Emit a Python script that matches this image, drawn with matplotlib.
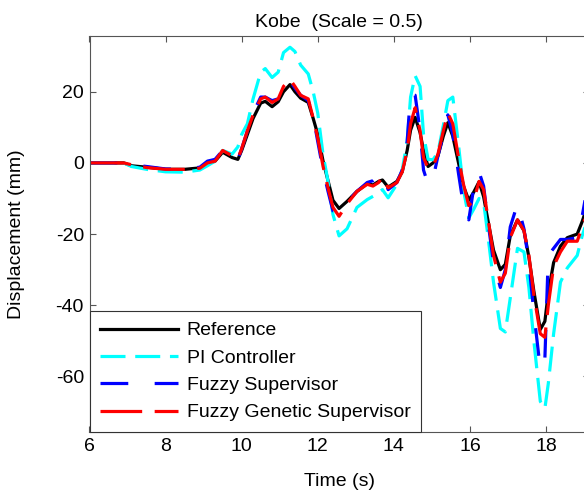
import matplotlib
matplotlib.use("Agg")
import matplotlib.pyplot as plt

plt.rcParams['font.family'] = ['Liberation Sans', 'DejaVu Sans']
plt.rcParams['lines.scale_dashes'] = False
plt.rcParams['axes.unicode_minus'] = False

# time grid (s) and displacements (mm)
t = [6.0, 6.9, 7.1, 7.5, 8.0, 8.5, 8.9, 9.1, 9.3, 9.5, 9.75, 9.9, 10.0, 10.15,
     10.3, 10.5, 10.62, 10.8, 10.96, 11.1, 11.27, 11.4, 11.55, 11.75, 11.88,
     12.0, 12.14, 12.27, 12.4, 12.56, 12.77, 13.03, 13.3, 13.45, 13.6, 13.7,
     13.85, 14.08, 14.22, 14.35, 14.44, 14.56, 14.69, 14.78, 14.9, 15.03,
     15.16, 15.3, 15.42, 15.55, 15.7, 15.83, 15.97, 16.1, 16.24, 16.36, 16.48,
     16.62, 16.8, 16.93, 17.06, 17.25, 17.42, 17.55, 17.68, 17.85, 17.97,
     18.06, 18.2, 18.38, 18.56, 18.82, 18.95, 19.15]

reference = [0, 0, -0.8, -1.2, -1.8, -1.8, -1.4, -0.3, 0.5, 3.0, 1.5, 1.0, 3.5, 8.0,
             12.5, 16.8, 17.3, 15.8, 17.2, 20.0, 22.0, 20.0, 18.2, 17.0, 12.5,
             8.0, 0.5, -5.0, -10.5, -12.8, -10.8, -8.0, -5.8, -6.2, -5.2, -4.8,
             -6.8, -5.2, -2.5, 3.5, 9.2, 12.8, 8.5, 3.5, -1.0, 0.0,
             2.0, 7.5, 11.3, 7.5, 0.0, -6.5, -10.5, -8.2, -5.3, -9.5, -16.5,
             -24.5, -30.0, -28.5, -20.5, -16.0, -19.0, -26.5, -36.0, -46.8, -44.5,
             -36.5, -28.0, -23.4, -21.0, -20.0, -16.5, -10.0]

pi_ctrl = [0, 0, -1.0, -1.8, -2.5, -2.6, -2.0, -0.8, 0.5, 3.5, 2.5, 4.5, 8.0, 11.0,
           18.0, 25.5, 26.5, 24.0, 25.5, 31.0, 32.5, 31.3, 27.5, 25.0, 20.0,
           14.0, 2.3, -5.2, -14.5, -20.5, -18.5, -12.5, -10.3, -9.4, -8.5, -7.5,
           -9.8, -6.0, -2.0, 6.0, 18.5, 24.5, 21.5, 8.0, 1.0, 0.9,
           3.0, 10.5, 17.5, 18.5, 5.0, -7.5, -15.5, -13.0, -10.0, -11.0, -21.0,
           -33.5, -46.5, -47.5, -38.0, -24.0, -25.0, -35.0, -50.0, -67.0, -69.0,
           -62.0, -48.0, -33.5, -29.5, -26.0, -20.5, -14.0]

fuzzy = [0, 0, -0.5, -1.0, -1.7, -1.8, -1.2, 0.5, 1.0, 3.5, 2.0, 0.8, 4.0, 9.0,
         14.0, 18.5, 18.5, 17.5, 18.0, 22.0, 23.0, 21.0, 19.0, 17.5, 13.0,
         6.0, -2.0, -8.0, -13.5, -14.0, -11.0, -8.0, -5.5, -5.0, -3.5, -3.0,
         -7.5, -5.5, -2.0, 6.0, 19.5, 19.0, 9.0, -2.0, -6.0, -4.5,
         2.0, 8.0, 13.5, 8.0, -3.0, -12.0, -16.0, -7.0, -2.5, -6.5, -17.0,
         -28.0, -35.0, -30.0, -18.0, -11.5, -18.5, -28.0, -42.0, -58.0, -55.0,
         -26.0, -24.0, -21.5, -21.5, -21.0, -15.0, -3.0]

fuzzy_gen = [0, 0, -0.5, -1.3, -1.8, -1.8, -1.5, 0.0, 0.5, 3.5, 2.0, 1.2, 4.0, 9.0,
             13.5, 18.0, 18.5, 17.0, 18.0, 21.5, 23.5, 21.5, 19.0, 18.0, 12.5,
             7.0, -1.0, -7.0, -12.5, -15.0, -11.5, -8.0, -6.0, -6.5, -5.5, -4.0,
             -7.0, -5.5, -2.5, 3.5, 11.0, 15.5, 9.0, 1.5, -1.5, -1.0,
             2.5, 9.0, 14.0, 11.0, 1.5, -6.0, -12.0, -10.5, -5.2, -7.5, -16.0,
             -26.0, -33.5, -31.0, -21.0, -16.0, -19.0, -26.0, -37.0, -48.0, -49.0,
             -40.0, -29.0, -25.0, -22.0, -22.0, -18.0, -12.0]

fig = plt.figure(figsize=(5.84, 4.92), dpi=100)
ax = fig.add_axes([89.5 / 584, 60 / 492, 499.5 / 584, 396.5 / 492])

lw = 2.3
ax.plot(t, reference, color='black', lw=lw, label='Reference')
ax.plot(t, pi_ctrl, color='cyan', lw=lw, dashes=(18, 7), label='PI Controller')
ax.plot(t, fuzzy, color='blue', lw=lw, dashes=(20, 19), label='Fuzzy Supervisor')
ax.plot(t, fuzzy_gen, color='red', lw=lw, dashes=(30, 9),
        label='Fuzzy Genetic Supervisor')

ax.set_xlim(6, 19.13)
ax.set_ylim(-75.6, 35.8)
ax.set_xticks([6, 8, 10, 12, 14, 16, 18])
ax.set_yticks([-60, -40, -20, 0, 20])
ax.tick_params(direction='in', top=True, right=True, length=4, width=0.8,
               color='#555555', labelsize=14, pad=4)
for s in ax.spines.values():
    s.set_color('#555555')
    s.set_linewidth(0.8)

ax.set_title('Kobe  (Scale = 0.5)', fontsize=14, pad=6)
ax.set_xlabel('Time (s)', fontsize=14, labelpad=13)
ax.set_ylabel('Displacement (mm)', fontsize=14, labelpad=22)

leg = ax.legend(loc='lower left', bbox_to_anchor=(0, 0), borderaxespad=0,
                fontsize=14, handlelength=4.0, handletextpad=0.45,
                labelspacing=0.5, borderpad=0.55, fancybox=False,
                framealpha=1)
leg.get_frame().set_edgecolor('#333333')
leg.get_frame().set_linewidth(0.8)

fig.savefig('out.png', dpi=100)
